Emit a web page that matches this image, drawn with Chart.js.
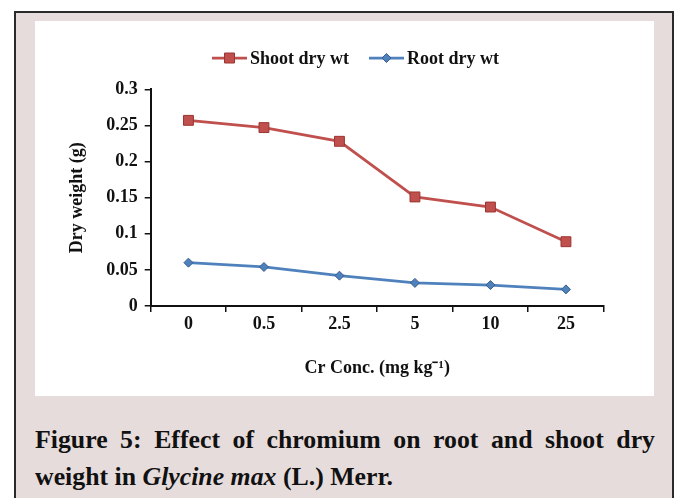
<!DOCTYPE html>
<html>
<head>
<meta charset="utf-8">
<script src="https://cdn.jsdelivr.net/npm/chart.js@4.4.0/dist/chart.umd.min.js"></script>
<style>
  body { margin: 0; width: 678px; height: 498px; background: #fff; position: relative; overflow: hidden; font-family: "Liberation Serif", serif; }
  #frame { position: absolute; left: 14px; top: 11px; width: 660px; height: 500px; background: #e7dcdc; border: 2px solid #2a2a2a; box-sizing: border-box; }
  #plot { position: absolute; left: 35px; top: 21px; width: 619px; height: 375px; background: #fff; }
  .cap { position: absolute; left: 35px; width: 620px; font-weight: bold; font-size: 25.8px; line-height: 37px; color: #111; white-space: nowrap; }
  #cap1 { top: 421px; text-align: justify; text-align-last: justify; white-space: normal; }
  #cap2 { top: 458px; }
</style>
</head>
<body>
<div id="frame"></div>
<div id="plot"><canvas id="grafico-peso-seco" width="619" height="375"></canvas></div>
<div class="cap" id="cap1">Figure 5: Effect of chromium on root and shoot dry</div>
<div class="cap" id="cap2">weight in <i>Glycine max</i> (L.) Merr.</div>
<script>
var concLabels = ['0', '0.5', '2.5', '5', '10', '25'];
var shootDryWt = [0.257, 0.247, 0.228, 0.151, 0.137, 0.089];
var rootDryWt = [0.060, 0.054, 0.042, 0.032, 0.029, 0.023];
var seriesNames = ['Shoot dry wt', 'Root dry wt'];
var yMin = 0, yMax = 0.3, yStep = 0.05;

Chart.defaults.font.family = '"Liberation Serif", "Times New Roman", serif';
Chart.defaults.font.size = 18;
Chart.defaults.font.weight = 'bold';
Chart.defaults.color = '#111';

// legenda no estilo do Excel: linha com marcador no meio
var legendaExcel = {
	id: 'legendaExcel',
	afterDraw: function(chart) {
		var ctx = chart.ctx;
		var y = 37;
		var x = 177;
		ctx.save();
		ctx.font = 'bold 18px "Liberation Serif", serif';
		ctx.textBaseline = 'middle';
		chart.data.datasets.forEach(function(ds) {
			ctx.strokeStyle = ds.borderColor;
			ctx.lineWidth = ds.borderWidth;
			ctx.beginPath();
			ctx.moveTo(x, y);
			ctx.lineTo(x + 35, y);
			ctx.stroke();
			var cx = x + 17.5;
			ctx.fillStyle = ds.pointBackgroundColor;
			ctx.strokeStyle = ds.pointBorderColor;
			ctx.lineWidth = 1;
			ctx.beginPath();
			if (ds.pointStyle === 'rect') {
				ctx.rect(cx - 5, y - 5, 10, 10);
			} else {
				ctx.moveTo(cx, y - 4.5);
				ctx.lineTo(cx + 4.5, y);
				ctx.lineTo(cx, y + 4.5);
				ctx.lineTo(cx - 4.5, y);
				ctx.closePath();
			}
			ctx.fill();
			ctx.stroke();
			ctx.fillStyle = '#111';
			ctx.fillText(ds.label, x + 38, y + 1);
			x += 38 + ctx.measureText(ds.label).width + 20;
		});
		ctx.restore();
	}
};

var ctx = document.getElementById('grafico-peso-seco');
var grafico = new Chart(ctx, {
	type: 'line',
	data: {
		labels: concLabels,
		datasets: [
		{
			label: seriesNames[0],
			data: shootDryWt,
			borderColor: '#c0504d',
			borderWidth: 2.75,
			pointStyle: 'rect',
			pointRadius: 7,
			pointBackgroundColor: '#c0504d',
			pointBorderColor: '#9c3532',
			pointBorderWidth: 1,
			tension: 0
		},
		{
			label: seriesNames[1],
			data: rootDryWt,
			borderColor: '#4f81bd',
			borderWidth: 2.75,
			pointStyle: 'rectRot',
			pointRadius: 4.5,
			pointBackgroundColor: '#4f81bd',
			pointBorderColor: '#385d8a',
			pointBorderWidth: 1,
			tension: 0
		}]
	},
	options: {
		responsive: false,
		animation: false,
		devicePixelRatio: 1,
		layout: { padding: { top: 68.3, right: 50.3, left: 0, bottom: 0 } },
		plugins: {
			legend: { display: false },
			tooltip: { enabled: false }
		},
		scales: {
			x: {
				offset: true,
				grid: { offset: true, drawOnChartArea: false, drawTicks: true, tickLength: 6, color: '#111', lineWidth: 1.5 },
				border: { display: true, color: '#111', width: 2 },
				ticks: { padding: 2 },
				title: { display: true, text: 'Cr Conc. (mg kg\u207B\u00B9)', padding: { top: 0, bottom: 17 } },
				afterFit: function(scale) { scale.height = 90; }
			},
			y: {
				min: yMin,
				max: yMax,
				ticks: {
					stepSize: yStep,
					padding: 7,
					callback: function(v) { return String(Number(v.toFixed(2))); }
				},
				grid: { drawOnChartArea: false, drawTicks: true, tickLength: 6, color: '#111', lineWidth: 1.5 },
				border: { display: true, color: '#111', width: 2 },
				title: { display: true, text: 'Dry weight (g)', padding: { top: 32, bottom: 0 } },
				afterFit: function(scale) { scale.width = 115.7; }
			}
		}
	},
	plugins: [legendaExcel]
});
</script>
</body>
</html>
